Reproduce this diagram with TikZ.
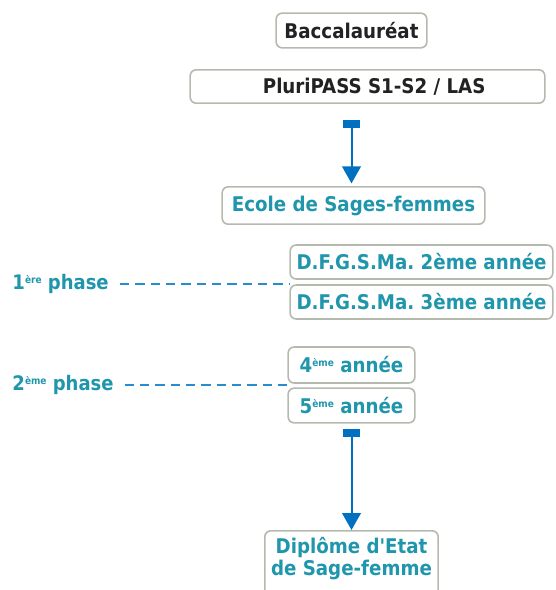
\documentclass[tikz,border=0pt]{standalone}
\usepackage{fontspec}
\defaultfontfeatures{Ligatures=TeXOff}
\setmainfont{DejaVu Sans Condensed}[Ligatures=TeXOff]
\usetikzlibrary{arrows.meta}
\frenchspacing

\definecolor{sfteal}{RGB}{32,150,172}
\definecolor{sfblue}{RGB}{0,112,192}
\definecolor{sfdash}{RGB}{40,140,210}
\definecolor{sfgray}{RGB}{180,186,174}
\definecolor{sfdark}{RGB}{34,34,34}

\newcommand{\expo}[1]{\raisebox{4.5pt}{\fontsize{7.5}{7.5}\selectfont #1}}

\tikzset{every picture/.style={line width=0.75pt}}
\tikzset{
	etape/.style={draw=sfgray, line width=1.2pt, rounded corners=4.5pt, fill=white, inner sep=2pt, font=\fontsize{15.2}{16.5}\selectfont\bfseries, text=sfteal},
	etapenoire/.style={etape, text=sfdark},
	phase/.style={font=\fontsize{15}{16.5}\selectfont\bfseries, text=sfteal, inner sep=0pt},
	lien/.style={draw=sfblue, line width=1.5pt, {Rectangle[length=6pt,width=12.75pt]}-{Triangle[length=12.75pt,width=14pt]}},
	pointille/.style={draw=sfdash, line width=1.3pt, dash pattern=on 7pt off 4.5pt}
}

\begin{document}
\begin{tikzpicture}[x=0.75pt,y=0.75pt,yscale=-1,xscale=1]
	\useasboundingbox (0,0) rectangle (556,590);
	
	% Etapes
	\node [etapenoire, minimum width=113pt, minimum height=26pt] (bac) at (351.5,30.5) {Baccalauréat};
	\node [etapenoire, minimum width=266pt, minimum height=25pt] (pluri) at (367.5,86.5) {\hspace*{10pt}PluriPASS S1-S2 / LAS};
	\node [etape, minimum width=197pt, minimum height=28pt] (ecole) at (353.5,205.5) {Ecole de Sages-femmes};
	\node [etape, minimum width=197pt, minimum height=25.5pt] (dfg2) at (421.5,262) {D.F.G.S.Ma. 2ème année};
	\node [etape, minimum width=197pt, minimum height=25.5pt] (dfg3) at (421.5,302) {D.F.G.S.Ma. 3ème année};
	\node [etape, minimum width=95pt, minimum height=27pt] (an4) at (351.5,365) {4\expo{ème} année};
	\node [etape, minimum width=95pt, minimum height=26pt] (an5) at (351.5,405.5) {5\expo{ème} année};
	\node [etape, anchor=north, minimum width=130pt, minimum height=52pt, align=center, text depth=14pt] (dipl) at (351.5,530) {Diplôme d'Etat\\de Sage-femme};
	
	% Phases
	\node [phase, anchor=west] (ph1) at (12,284) {1\expo{ère} phase};
	\node [phase, anchor=west] (ph2) at (12,385) {2\expo{ème} phase};
	
	% Liens
	\draw [lien, shorten <=12pt, shorten >=2pt] (bac |- pluri.south) -- (bac |- ecole.north);
	\draw [lien, shorten <=4pt] (dipl |- an5.south) -- (dipl.north);
	
	% Pointilles
	\draw [pointille, shorten <=8pt] (ph1.east) -- (ph1.east -| dfg2.west);
	\draw [pointille, shorten <=8pt] (ph2.east) -- (ph2.east -| an4.west);
	
\end{tikzpicture}
\end{document}
